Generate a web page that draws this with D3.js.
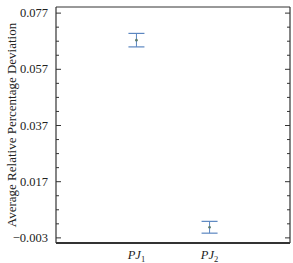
<!DOCTYPE html>
<html>
<head>
<meta charset="utf-8">
<script src="https://cdn.jsdelivr.net/npm/d3@7"></script>
<style>
  body { margin: 0; background: #fff; }
  text { font-family: "Liberation Serif", "Times New Roman", serif; }
</style>
</head>
<body>
<script>
// Data
var categories = ["PJ1", "PJ2"];
var means = [0.0672, 0.0006];
var errors = [0.0024, 0.0021];
var yTicks = [-0.003, 0.017, 0.037, 0.057, 0.077];

var data = categories.map(function(c, i) {
  return {name: c, mean: means[i], err: errors[i]};
});

var margin = {top: 7, right: 3, bottom: 20, left: 56},
    width = 293 - margin.left - margin.right,
    height = 263 - margin.top - margin.bottom;

var svg = d3.select("body")
  .append("svg")
    .attr("width", 293)
    .attr("height", 263)
  .append("g")
    .attr("transform", "translate(" + margin.left + "," + margin.top + ")");

var x = d3.scalePoint()
  .domain(categories)
  .range([0, width])
  .padding(1.1);

var y = d3.scaleLinear()
  .domain([-0.005, 0.079])
  .range([height, 0]);

// minor ticks every 0.005 between majors
var minorTicks = d3.range(-0.003, 0.0775, 0.005).filter(function(v) {
  return yTicks.every(function(t) { return Math.abs(t - v) > 1e-6; });
});

// left axis, ticks inward
var left = svg.append("g")
  .call(d3.axisLeft(y).tickValues(yTicks).tickSize(-5).tickPadding(8).tickFormat(d3.format(".3f")));
left.select(".domain").remove();
left.selectAll("text").attr("font-size", "12.5px").attr("fill", "#222")
  .attr("font-family", "Liberation Serif");
left.selectAll("line").attr("stroke", "#333");

svg.append("g")
  .call(d3.axisLeft(y).tickValues(minorTicks).tickSize(-3).tickFormat(""))
  .call(function(g) { g.select(".domain").remove(); g.selectAll("line").attr("stroke", "#333"); });

// right axis, ticks inward
svg.append("g")
  .attr("transform", "translate(" + width + ",0)")
  .call(d3.axisRight(y).tickValues(yTicks).tickSize(-5).tickFormat(""))
  .call(function(g) { g.select(".domain").remove(); g.selectAll("line").attr("stroke", "#333"); });
svg.append("g")
  .attr("transform", "translate(" + width + ",0)")
  .call(d3.axisRight(y).tickValues(minorTicks).tickSize(-3).tickFormat(""))
  .call(function(g) { g.select(".domain").remove(); g.selectAll("line").attr("stroke", "#333"); });

// frame
svg.append("line").attr("x1", 0).attr("x2", 0).attr("y1", 0).attr("y2", height)
  .attr("stroke", "#333").attr("stroke-width", 1.2);
svg.append("line").attr("x1", width).attr("x2", width).attr("y1", 0).attr("y2", height)
  .attr("stroke", "#333").attr("stroke-width", 1.2);
svg.append("line").attr("x1", 0).attr("x2", width).attr("y1", 0).attr("y2", 0)
  .attr("stroke", "#333").attr("stroke-width", 1);
svg.append("line").attr("x1", 0).attr("x2", width).attr("y1", height).attr("y2", height)
  .attr("stroke", "#333").attr("stroke-width", 2);

// x labels with subscripts
var xl = svg.selectAll(".xlab")
  .data(data)
  .enter()
  .append("text")
    .attr("class", "xlab")
    .attr("x", function(d) { return x(d.name); })
    .attr("y", height + 16)
    .attr("text-anchor", "middle")
    .attr("font-size", "12.5px")
    .attr("fill", "#222");
xl.append("tspan").attr("font-style", "italic").text("PJ");
xl.append("tspan").attr("font-size", "8.5px").attr("dy", 3)
  .text(function(d) { return d.name.slice(2); });

// error bars
var col = "#5b86c0";
var eb = svg.selectAll(".eb")
  .data(data)
  .enter()
  .append("g")
    .attr("class", "eb");
eb.append("line")
  .attr("x1", function(d) { return x(d.name); })
  .attr("x2", function(d) { return x(d.name); })
  .attr("y1", function(d) { return y(d.mean + d.err); })
  .attr("y2", function(d) { return y(d.mean - d.err); })
  .attr("stroke", col).attr("stroke-width", 1);
eb.append("line")
  .attr("x1", function(d) { return x(d.name) - 8; })
  .attr("x2", function(d) { return x(d.name) + 8; })
  .attr("y1", function(d) { return y(d.mean + d.err); })
  .attr("y2", function(d) { return y(d.mean + d.err); })
  .attr("stroke", col).attr("stroke-width", 1.2);
eb.append("line")
  .attr("x1", function(d) { return x(d.name) - 8; })
  .attr("x2", function(d) { return x(d.name) + 8; })
  .attr("y1", function(d) { return y(d.mean - d.err); })
  .attr("y2", function(d) { return y(d.mean - d.err); })
  .attr("stroke", col).attr("stroke-width", 1.2);
eb.append("circle")
  .attr("cx", function(d) { return x(d.name); })
  .attr("cy", function(d) { return y(d.mean); })
  .attr("r", 1.3)
  .attr("fill", "#5a7a6a");

// y axis title
svg.append("text")
  .attr("transform", "translate(" + (13 - margin.left) + "," + (125 - margin.top) + ") rotate(-90)")
  .attr("text-anchor", "middle")
  .attr("dominant-baseline", "middle")
  .attr("font-size", "13px")
  .attr("fill", "#222")
  .text("Average Relative Percentage Deviation");
</script>
</body>
</html>
